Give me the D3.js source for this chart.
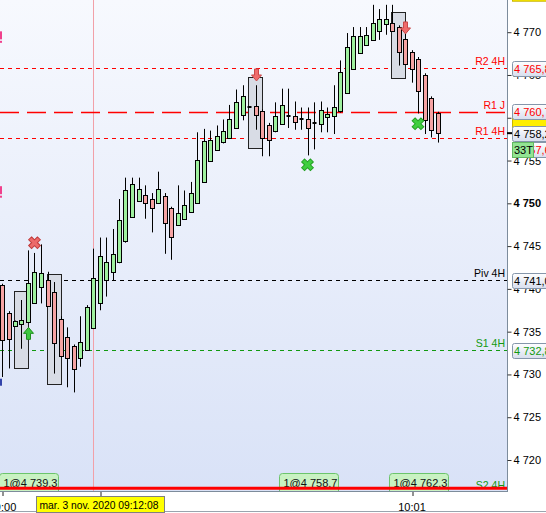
<!DOCTYPE html>
<html>
<head>
<meta charset="utf-8">
<script src="https://cdn.jsdelivr.net/npm/d3@7"></script>
<style>
    body { margin: 0; background: #fff; }
    svg { display: block; font-family: "Liberation Sans", Arial, sans-serif; }
</style>
</head>
<body>
<svg id="chart" width="546" height="513"></svg>
<script>
// candles (33 ticks each), oldest first
var opens = [4740.4, 4737.2, 4735.7, 4735.9, 4736.1, 4738.4, 4740.2, 4741.0, 4739.6, 4736.5,
    4734.4, 4733.3, 4731.9, 4732.9, 4735.4, 4738.4, 4741.1, 4742.0, 4743.1, 4745.5,
    4748.4, 4750.3, 4751.0, 4750.5, 4750.1, 4750.9, 4749.4, 4747.5, 4748.2, 4749.0,
    4750.1, 4752.5, 4755.0, 4756.3, 4757.1, 4757.7, 4758.8, 4760.4, 4761.3, 4761.4,
    4760.8, 4759.2, 4758.4, 4759.3, 4760.2, 4760.2, 4759.9, 4759.9, 4759.4, 4759.3,
    4760.0, 4760.2, 4760.7, 4762.9, 4765.7, 4767.6, 4768.5, 4769.1, 4770.2, 4770.9,
    4771.1, 4770.6, 4769.2, 4767.7, 4766.9, 4765.0, 4762.3, 4760.5];
var highs = [4740.6, 4737.4, 4736.3, 4738.7, 4744.5, 4744.2, 4745.2, 4742.0, 4740.8, 4736.8,
    4735.5, 4733.5, 4736.8, 4738.1, 4744.7, 4746.0, 4746.0, 4747.0, 4750.5, 4753.0,
    4753.0, 4753.0, 4752.1, 4751.2, 4753.7, 4751.2, 4749.6, 4752.1, 4751.5, 4752.5,
    4758.3, 4758.7, 4758.5, 4759.1, 4759.8, 4761.5, 4763.3, 4763.8, 4761.3, 4763.8,
    4761.0, 4759.4, 4761.8, 4763.4, 4763.4, 4761.9, 4761.2, 4761.2, 4761.8, 4761.9,
    4761.2, 4763.8, 4766.7, 4769.9, 4770.6, 4770.6, 4770.6, 4773.2, 4772.7, 4773.2,
    4773.2, 4770.8, 4770.4, 4767.9, 4767.1, 4765.2, 4762.5, 4760.7];
var lows = [4729.7, 4730.7, 4735.6, 4733.0, 4736.0, 4738.3, 4738.3, 4737.9, 4730.1, 4732.0,
    4728.5, 4727.9, 4730.9, 4732.8, 4735.3, 4737.5, 4739.1, 4741.0, 4743.0, 4745.4,
    4748.3, 4750.2, 4748.2, 4746.6, 4750.0, 4744.1, 4743.4, 4747.4, 4748.1, 4748.9,
    4750.0, 4752.4, 4754.9, 4756.2, 4757.0, 4757.6, 4758.7, 4759.7, 4761.3, 4758.6,
    4755.5, 4755.5, 4758.3, 4759.2, 4758.8, 4758.6, 4758.6, 4755.6, 4756.3, 4758.3,
    4758.3, 4758.1, 4760.6, 4762.8, 4765.6, 4767.5, 4768.4, 4769.0, 4769.1, 4769.7,
    4770.1, 4766.1, 4766.2, 4764.1, 4760.5, 4758.1, 4757.7, 4757.1];
var closes = [4734.0, 4734.2, 4736.3, 4736.4, 4740.7, 4742.0, 4741.8, 4738.0, 4733.6, 4732.2,
    4732.0, 4730.6, 4733.8, 4737.9, 4741.3, 4743.9, 4743.2, 4744.1, 4748.0, 4751.5,
    4752.2, 4751.7, 4750.1, 4749.5, 4751.7, 4747.7, 4746.0, 4748.9, 4749.8, 4751.2,
    4755.1, 4757.3, 4757.4, 4757.9, 4758.4, 4759.9, 4761.8, 4762.6, 4761.3, 4760.4,
    4757.6, 4757.4, 4760.2, 4761.5, 4760.2, 4759.5, 4759.9, 4758.8, 4759.4, 4760.9,
    4760.4, 4761.2, 4765.3, 4768.3, 4769.5, 4769.6, 4769.7, 4771.1, 4771.6, 4771.5,
    4770.2, 4767.7, 4766.3, 4765.7, 4763.2, 4759.7, 4758.6, 4758.2];

// pivot levels
var levelNames = ["R2 4H", "R1 J", "R1 4H", "Piv 4H", "S1 4H", "S2 4H"];
var levelPrices = [4765.8, 4760.7, 4757.6, 4741.0, 4732.8, 4716.3];
var stopPrice = 4716.7;

// price axis
var priceTicks = [4720, 4725, 4730, 4735, 4740, 4745, 4750, 4755, 4760, 4765, 4770];
var hiddenTickLabels = [4760];

// time axis (candle index)
var timeTickIdx = [0, 15, 63];
var timeTickLabels = ["09:00", "", "10:01"];
var cursorIdx = 14;
var cursorLabel = "mar. 3 nov. 2020 09:12:08";
var barType = "33T";

// signal zones
var zoneStart = [2, 7, 38, 60];
var zoneEnd = [4, 9, 40, 62];
var zoneHigh = [4739.8, 4741.7, 4764.8, 4772.4];
var zoneLow = [4730.8, 4728.9, 4756.5, 4764.7];

// exit crosses and entry arrows
var crossIdx = [5, 47, 64];
var crossPrice = [4745.4, 4754.5, 4759.3];
var crossSide = ["sell", "buy", "buy"];
var arrowIdx = [4, 39, 62];
var arrowPrice = [4734.8, 4765.0, 4770.5];
var arrowDir = ["up", "down", "down"];

// fills at the bottom
var tradeIdx = [0, 43, 60];
var tradePrice = [4739.3, 4758.7, 4762.3];

var plotW = 507, plotH = 491;

var svg = d3.select("#chart");

var x = d3.scaleLinear()
    .domain([0, opens.length - 1])
    .range([2, 2 + (opens.length - 1) * 6.5]);

var y = d3.scaleLinear()
    .domain([4720, 4770])
    .range([460, 32.2]);

function px(i) { return Math.round(x(i)) + 0.5; }

var fmtAxis = function (d) { return d3.format(",")(d).replace(",", " "); };
var fmtBox = function (d) { return d3.format(",.1f")(d).replace(",", " ").replace(".", ","); };
var fmtTrade = function (d) { return d3.format(",.1f")(d).replace(",", " "); };

var levelColor = { "R2 4H": "#ff0000", "R1 J": "#ff0000", "R1 4H": "#ff0000", "Piv 4H": "#000000", "S1 4H": "#119911", "S2 4H": "#119911" };
var levelDash = { "R1 J": "19,8" };

// background
var defs = svg.append("defs");
var grad = defs.append("linearGradient").attr("id", "bg").attr("x1", 0).attr("x2", 0).attr("y1", 0).attr("y2", 1);
grad.append("stop").attr("offset", "0%").attr("stop-color", "#f7f9fe");
grad.append("stop").attr("offset", "100%").attr("stop-color", "#d9e2f7");
var gradBox = defs.append("linearGradient").attr("id", "boxbg").attr("x1", 0).attr("x2", 0).attr("y1", 0).attr("y2", 1);
gradBox.append("stop").attr("offset", "0%").attr("stop-color", "#ffffff");
gradBox.append("stop").attr("offset", "100%").attr("stop-color", "#d7deee");

defs.append("clipPath").attr("id", "plotclip")
    .append("rect").attr("width", plotW).attr("height", plotH);

svg.append("rect")
    .attr("width", plotW).attr("height", plotH)
    .attr("fill", "url(#bg)");

var plot = svg.append("g").attr("clip-path", "url(#plotclip)");

// time cursor
plot.append("line")
    .attr("x1", px(cursorIdx)).attr("x2", px(cursorIdx))
    .attr("y1", 0).attr("y2", plotH)
    .attr("stroke", "#f2a0a8").attr("stroke-width", 1);

// level lines
levelNames.forEach(function (name, i) {
    var yy = Math.round(y(levelPrices[i])) + 0.5;
    plot.append("line")
        .attr("x1", 0).attr("x2", plotW)
        .attr("y1", yy).attr("y2", yy)
        .attr("stroke", levelColor[name])
        .attr("stroke-width", name == "R1 J" ? 1.6 : 1.2)
        .attr("stroke-dasharray", levelDash[name] || "4,4");
});

// cut-off labels at the left edge
[4769.4, 4751.3].forEach(function (p) {
    plot.append("rect")
        .attr("x", 0).attr("y", y(p) - 6).attr("width", 2).attr("height", 8)
        .attr("fill", "#f0408c");
    plot.append("rect")
        .attr("x", 0).attr("y", y(p) + 3.5).attr("width", 2).attr("height", 2)
        .attr("fill", "#f0408c");
});
plot.append("rect")
    .attr("x", 0).attr("y", y(4729.5)).attr("width", 2).attr("height", 7)
    .attr("fill", "#3344aa");

// signal zones
plot.selectAll(".zone")
    .data(zoneStart)
    .enter().append("rect")
    .attr("class", "zone")
    .attr("x", function (d) { return Math.round(x(d)) - 0.5; })
    .attr("width", function (d, i) { return Math.round(x(zoneEnd[i])) - Math.round(x(d)) + 1; })
    .attr("y", function (d, i) { return Math.round(y(zoneHigh[i])) + 0.5; })
    .attr("height", function (d, i) { return Math.round(y(zoneLow[i]) - y(zoneHigh[i])); })
    .attr("fill", "#d8dce5")
    .attr("stroke", "#222")
    .attr("stroke-width", 1);

// candles
var candles = plot.selectAll(".candle")
    .data(opens)
    .enter().append("g")
    .attr("class", "candle");

candles.append("line")
    .attr("x1", function (d, i) { return px(i); })
    .attr("x2", function (d, i) { return px(i); })
    .attr("y1", function (d, i) { return y(highs[i]); })
    .attr("y2", function (d, i) { return y(lows[i]); })
    .attr("stroke", "#000").attr("stroke-width", 1);

candles.append("rect")
    .attr("x", function (d, i) { return px(i) - 2; })
    .attr("width", 4)
    .attr("y", function (d, i) {
        if (d == closes[i]) return Math.round(y(d)) - 1;
        return Math.round(y(Math.max(d, closes[i]))) + 0.5;
    })
    .attr("height", function (d, i) {
        if (d == closes[i]) return 2;
        return Math.max(1, Math.round(Math.abs(y(d) - y(closes[i]))));
    })
    .attr("fill", function (d, i) {
        if (d == closes[i]) return "#000";
        return closes[i] > d ? "#9ef09e" : "#f5a3a3";
    })
    .attr("stroke", function (d, i) { return d == closes[i] ? "none" : "#000"; })
    .attr("stroke-width", 1);

// crosses
var crossPath = d3.symbol().type(d3.symbolCross).size(85);
plot.selectAll(".cross")
    .data(crossIdx)
    .enter().append("path")
    .attr("class", "cross")
    .attr("d", crossPath)
    .attr("transform", function (d, i) { return "translate(" + x(d) + "," + y(crossPrice[i]) + ") rotate(45)"; })
    .attr("fill", function (d, i) { return crossSide[i] == "sell" ? "#ec6a6a" : "#3fcf3f"; })
    .attr("stroke", function (d, i) { return crossSide[i] == "sell" ? "#c03a3a" : "#23a023"; })
    .attr("stroke-width", 1);

// arrows
var arrowShape = "M0,6 L-5,0 L-2,0 L-2,-6 L2,-6 L2,0 L5,0 Z";
plot.selectAll(".arrow")
    .data(arrowIdx)
    .enter().append("path")
    .attr("class", "arrow")
    .attr("d", arrowShape)
    .attr("transform", function (d, i) {
        return "translate(" + (Math.round(x(d)) + 0.5) + "," + y(arrowPrice[i]) + ")" + (arrowDir[i] == "up" ? " rotate(180)" : "");
    })
    .attr("fill", function (d, i) { return arrowDir[i] == "up" ? "#3ec83e" : "#ef6b6b"; })
    .attr("stroke", function (d, i) { return arrowDir[i] == "up" ? "#1f8f1f" : "#c84848"; })
    .attr("stroke-width", 1);

// level labels
levelNames.forEach(function (name, i) {
    plot.append("text")
        .attr("x", 505).attr("y", y(levelPrices[i]) - 3)
        .attr("text-anchor", "end")
        .attr("font-size", "10.5px")
        .attr("fill", levelColor[name])
        .text(name);
});

// fill tags
var tags = plot.selectAll(".tag")
    .data(tradeIdx)
    .enter().append("g")
    .attr("class", "tag")
    .attr("transform", function (d) { return "translate(" + (Math.round(x(d)) - 2.5) + "," + 473.5 + ")"; });
tags.append("rect")
    .attr("width", 59).attr("height", 24).attr("rx", 3)
    .attr("fill", "#c9f2c2").attr("stroke", "#6cc46c");
tags.append("text")
    .attr("x", 4).attr("y", 13)
    .attr("font-size", "11px")
    .attr("fill", "#111")
    .text(function (d, i) { return "1@" + fmtTrade(tradePrice[i]); });

// stop line
plot.append("line")
    .attr("x1", 0).attr("x2", plotW)
    .attr("y1", y(stopPrice)).attr("y2", y(stopPrice))
    .attr("stroke", "#ff0000").attr("stroke-width", 3);

// frame
svg.append("line")
    .attr("x1", plotW + 0.5).attr("x2", plotW + 0.5).attr("y1", 0).attr("y2", plotH)
    .attr("stroke", "#7d8c9c");
svg.append("line")
    .attr("x1", 0).attr("x2", plotW + 1).attr("y1", plotH + 0.5).attr("y2", plotH + 0.5)
    .attr("stroke", "#7d8c9c");
svg.append("line")
    .attr("x1", 0).attr("x2", 546).attr("y1", 511.5).attr("y2", 511.5)
    .attr("stroke", "#9aa4ae");

// price axis
var yAxis = svg.append("g")
    .attr("transform", "translate(" + (plotW + 0.5) + ",0)")
    .call(d3.axisRight(y).tickValues(priceTicks).tickSize(4).tickPadding(2)
        .tickFormat(function (d) { return hiddenTickLabels.indexOf(d) >= 0 ? "" : fmtAxis(d); }));
yAxis.select(".domain").remove();
yAxis.selectAll("line").attr("stroke", "#333");
yAxis.selectAll("text")
    .attr("font-family", "'Liberation Sans', Arial, sans-serif")
    .attr("font-size", "11px")
    .attr("fill", "#000")
    .attr("font-weight", function (d) { return d % 50 == 0 ? "bold" : "normal"; });

// time axis
var xAxis = svg.append("g")
    .attr("transform", "translate(0," + (plotH + 1) + ")")
    .call(d3.axisBottom(x).tickValues(timeTickIdx).tickSize(4).tickPadding(7)
        .tickFormat(function (d, i) { return timeTickLabels[i]; }));
xAxis.select(".domain").remove();
xAxis.selectAll("line")
    .attr("transform", function (d) { return "translate(" + (px(d) - x(d)) + ",0)"; })
    .attr("stroke", "#222");
xAxis.selectAll("text")
    .attr("font-family", "'Liberation Sans', Arial, sans-serif")
    .attr("font-size", "11px")
    .attr("fill", "#000");

// price tags on the axis
var boxH = 15;
svg.append("rect")
    .attr("x", 512.5).attr("y", y(4774.5) - 7.5).attr("width", 40).attr("height", boxH)
    .attr("fill", "#ffee00").attr("stroke", "#c8b400");
svg.append("rect")
    .attr("x", 512.5).attr("y", y(4759.2) - 7.5).attr("width", 40).attr("height", boxH)
    .attr("fill", "#ffee00").attr("stroke", "#c8b400");

var tagPrices = [levelPrices[0], levelPrices[1], closes[closes.length - 1], levelPrices[2], levelPrices[3], levelPrices[4]];
var tagColors = ["#ff0000", "#ff0000", "#000000", "#ff0000", "#000000", "#119911"];
var lastBottom = -100;
var tagTops = tagPrices.map(function (p) {
    var top = Math.round(y(p) - boxH / 2);
    if (top < lastBottom + 1) top = lastBottom + 1;
    lastBottom = top + boxH;
    return top;
});

tagPrices.forEach(function (p, i) {
    svg.append("rect")
        .attr("x", 512.5).attr("y", tagTops[i] + 0.5)
        .attr("width", 40).attr("height", boxH).attr("rx", 2)
        .attr("fill", "url(#boxbg)").attr("stroke", "#8596aa");
    svg.append("text")
        .attr("x", 514).attr("y", tagTops[i] + 12)
        .attr("font-size", "11px")
        .attr("fill", tagColors[i])
        .text(fmtBox(p));
});

// last price tick
svg.append("line")
    .attr("x1", plotW).attr("x2", plotW + 5)
    .attr("y1", y(closes[closes.length - 1])).attr("y2", y(closes[closes.length - 1]))
    .attr("stroke", "#000").attr("stroke-width", 2);

// bar type tag
svg.append("rect")
    .attr("x", 512.5).attr("y", tagTops[3] + 0.5)
    .attr("width", 21).attr("height", boxH)
    .attr("fill", "#93e493").attr("stroke", "#62b862");
svg.append("text")
    .attr("x", 514).attr("y", tagTops[3] + 12)
    .attr("font-size", "11px")
    .attr("fill", "#000")
    .text(barType);

// cursor time tag
var cursorTag = svg.append("g")
    .attr("transform", "translate(36.5," + 496.5 + ")");
cursorTag.append("rect")
    .attr("width", 128).attr("height", 16)
    .attr("fill", "#ffff00").attr("stroke", "#808080");
cursorTag.append("text")
    .attr("x", 3).attr("y", 12)
    .attr("font-size", "10.3px")
    .attr("fill", "#000")
    .text(cursorLabel);
</script>
</body>
</html>
